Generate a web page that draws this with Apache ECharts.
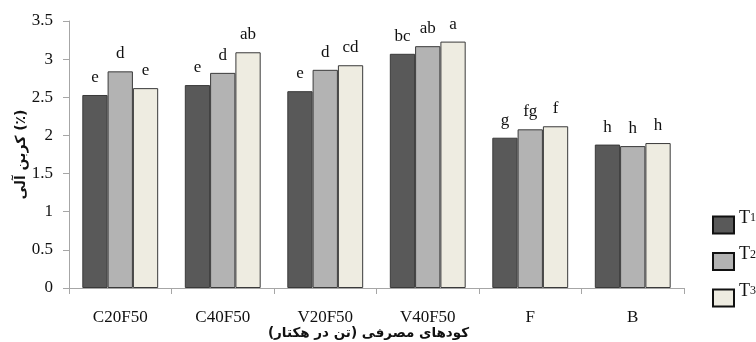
<!DOCTYPE html>
<html><head><meta charset="utf-8">
<script src="https://cdn.jsdelivr.net/npm/echarts@6/dist/echarts.min.js"></script>
<style>html,body{margin:0;padding:0;background:#fff}#c{width:756px;height:342px}</style>
</head><body><div id="c"></div>
<script>
const categories = ['C20F50','C40F50','V20F50','V40F50','F','B'];
const seriesNames = ['T1','T2','T3'];
const t1 = [2.53, 2.66, 2.58, 3.07, 1.97, 1.88];
const t2 = [2.84, 2.82, 2.86, 3.17, 2.08, 1.86];
const t3 = [2.62, 3.09, 2.92, 3.23, 2.12, 1.90];
const t1Letters = ['e','e','e','bc','g','h'];
const t2Letters = ['d','d','d','ab','fg','h'];
const t3Letters = ['e','ab','cd','a','f','h'];
const yTicks = [0,0.5,1,1.5,2,2.5,3,3.5];
const colors = ['#595959','#b3b3b3','#eeece1'];
const font = '"Liberation Serif", "DejaVu Serif", serif';

function mk(name, vals, letters, color){
  return {
    name, type:'bar', data: vals, barGap:'0%', barCategoryGap:'26%',
    itemStyle:{color, borderColor:'#3a3a3a', borderWidth:1},
    label:{show:true, position:'top', distance:9, fontFamily:font, fontSize:17, color:'#111',
      formatter: p => letters[p.dataIndex]}
  };
}
const chart = echarts.init(document.getElementById('c'));
chart.setOption({
  animation:false,
  grid:{left:69, right:72, top:21, bottom:54, containLabel:false, outerBoundsMode:'none'},
  xAxis:{type:'category', data:categories,
    axisLine:{lineStyle:{color:'#a6a6a6'}},
    axisTick:{show:true, length:6, lineStyle:{color:'#a6a6a6'}},
    axisLabel:{fontFamily:font, fontSize:17, color:'#111', margin:21},
    name:'کودهای مصرفی (تن در هکتار)', nameLocation:'middle', nameGap:38, nameMoveOverlap:false,
    nameTextStyle:{fontFamily:'"DejaVu Sans", "Noto Sans", sans-serif', fontWeight:'bold', fontSize:13.5, color:'#111', padding:[0,16,0,0]}
  },
  yAxis:{type:'value', min:0, max:3.5, interval:0.5,
    axisLine:{show:true, lineStyle:{color:'#a6a6a6'}},
    axisTick:{show:true, length:6, lineStyle:{color:'#a6a6a6'}},
    splitLine:{show:false},
    axisLabel:{fontFamily:font, fontSize:17, color:'#111', margin:16,
      formatter: v => yTicks.includes(v) ? String(v) : ''},
    name:'کربن آلی (٪)', nameLocation:'middle', nameGap:41, nameRotate:90, nameMoveOverlap:false,
    nameTextStyle:{fontFamily:'"DejaVu Sans", "Noto Sans", sans-serif', fontWeight:'bold', fontSize:14, color:'#111'}
  },
  legend:{orient:'vertical', left:712, top:209, padding:0, itemWidth:21, itemHeight:17, itemGap:11,
    icon:'rect',
    itemStyle:{borderColor:'#111', borderWidth:2},
    formatter: n => '{a|T}{b|' + n.slice(1) + '}',
    textStyle:{padding:[0,0,14,0], rich:{a:{fontFamily:font, fontSize:18, color:'#111'},
                     b:{fontFamily:font, fontSize:12, color:'#111'}}},
    data: seriesNames
  },
  series:[mk('T1',t1,t1Letters,colors[0]), mk('T2',t2,t2Letters,colors[1]), mk('T3',t3,t3Letters,colors[2])]
});
</script></body></html>
